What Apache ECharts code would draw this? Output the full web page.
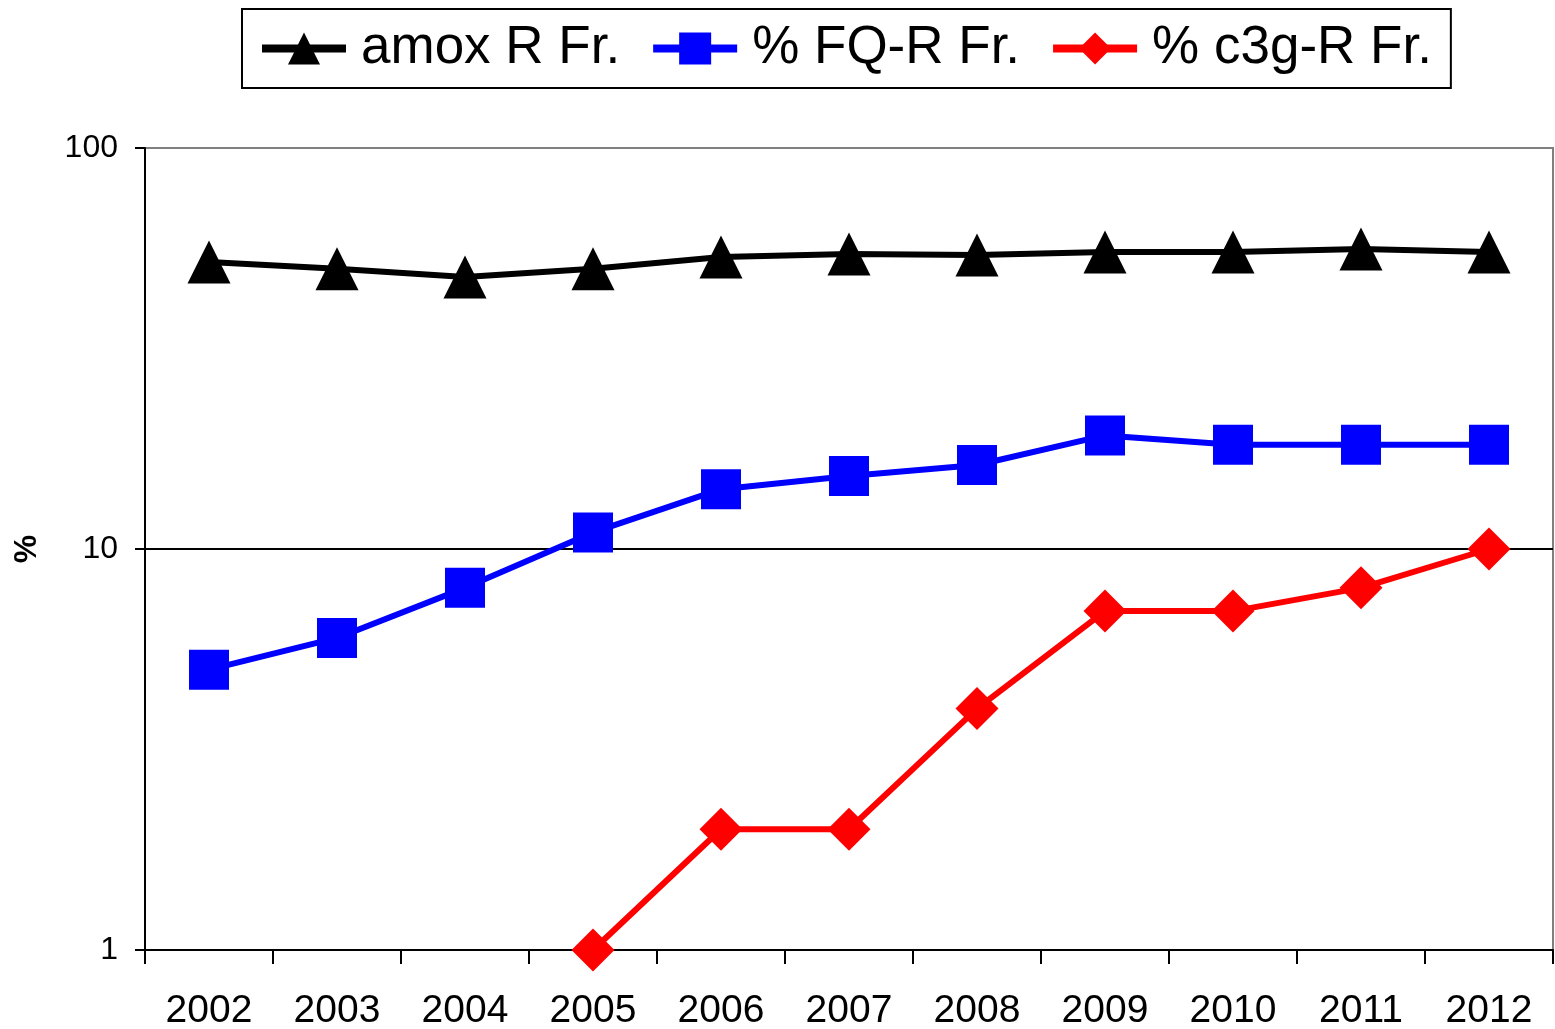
<!DOCTYPE html>
<html><head><meta charset="utf-8">
<script src="https://cdn.jsdelivr.net/npm/echarts@6/dist/echarts.min.js"></script>
<style>html,body{margin:0;padding:0;background:#fff}#c{width:1555px;height:1029px}</style>
</head><body><div id="c"></div>
<script>
const years = ['2002','2003','2004','2005','2006','2007','2008','2009','2010','2011','2012'];
const amoxR = [52, 50, 47.7, 50, 53.5, 54.4, 54.1, 55, 55, 56, 55];
const fqR = [5, 6, 8, 11, 14.1, 15.2, 16.2, 19.2, 18.2, 18.2, 18.2];
const c3gR = [null, null, null, 1, 2, 2, 4, 7, 7, 8, 10];
const names = ['amox R Fr.', '% FQ-R Fr.', '% c3g-R Fr.'];

const chart = echarts.init(document.getElementById('c'), null, {renderer:'canvas'});
const font = 'Liberation Sans, Arial, sans-serif';
chart.setOption({
  animation: false,
  backgroundColor: '#fff',
  legend: {
    left: 242, top: 9,
    padding: [13, 19, 13, 16],
    borderColor: '#000', borderWidth: 2,
    itemWidth: 84, itemHeight: 40, itemGap: 29,
    lineStyle: {width: 8},
    textStyle: {fontFamily: font, fontSize: 53, color: '#000', padding: [0,0,0,10]},
    data: names
  },
  grid: {left: 145, top: 148, right: 2, bottom: 79, outerBoundsMode: 'none', containLabel: false,
         show: true, borderColor: '#808080', borderWidth: 2, backgroundColor: 'transparent'},
  xAxis: {
    type: 'category', data: years, boundaryGap: true,
    axisLine: {lineStyle: {color: '#000', width: 2}},
    axisTick: {show: true, length: 14, lineStyle: {color: '#000', width: 2}},
    axisLabel: {fontFamily: font, fontSize: 39, color: '#000', margin: 42},
    splitLine: {show: false}
  },
  yAxis: {
    type: 'log', logBase: 10, min: 1, max: 100,
    name: '%', nameLocation: 'middle', nameGap: 102,
    nameTextStyle: {fontFamily: font, fontSize: 32, fontWeight: 'bold', color: '#000'},
    axisLine: {show: true, lineStyle: {color: '#000', width: 2}},
    axisTick: {show: true, length: 10, lineStyle: {color: '#000', width: 2}},
    axisLabel: {fontFamily: font, fontSize: 32, color: '#000', margin: 27},
    splitLine: {show: true, showMinLine: false, showMaxLine: false, lineStyle: {color: '#000', width: 2}},
    minorTick: {show: false}, minorSplitLine: {show: false}
  },
  series: [
    {name: names[0], type: 'line', data: amoxR, symbol: 'triangle', symbolSize: 43,
     itemStyle: {color: '#000'}, lineStyle: {color: '#000', width: 6}},
    {name: names[1], type: 'line', data: fqR, symbol: 'rect', symbolSize: 40,
     itemStyle: {color: '#0000ff'}, lineStyle: {color: '#0000ff', width: 6}},
    {name: names[2], type: 'line', data: c3gR, symbol: 'diamond', symbolSize: 43,
     itemStyle: {color: '#ff0000'}, lineStyle: {color: '#ff0000', width: 6}}
  ]
});
</script></body></html>
